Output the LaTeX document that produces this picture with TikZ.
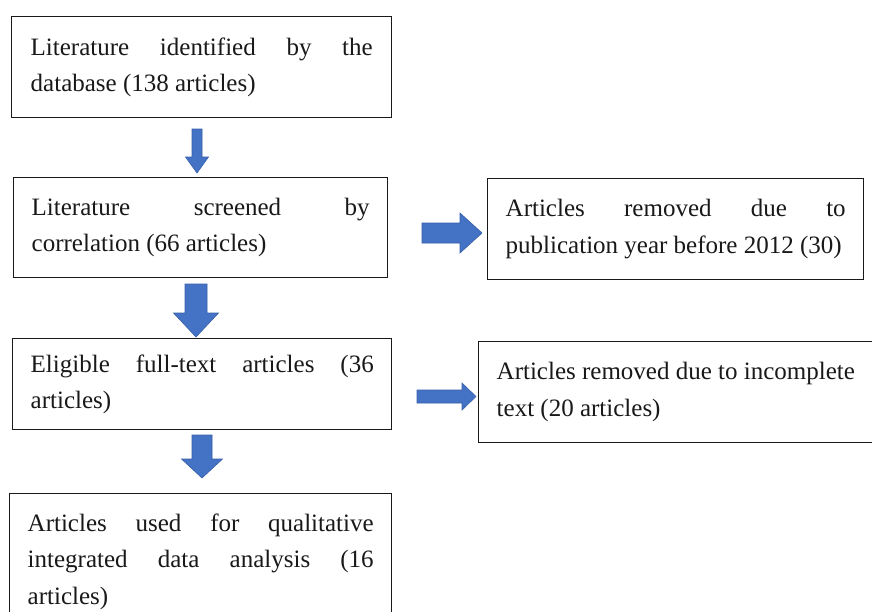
\documentclass[tikz,border=0pt]{standalone}
\usepackage{fontspec}
\setmainfont{Liberation Serif}
\definecolor{arrowblue}{RGB}{68,114,196}
\definecolor{arrowedge}{RGB}{55,95,170}
\definecolor{ink}{RGB}{25,25,25}
\hyphenpenalty=10000
\exhyphenpenalty=10000
\newcommand\myvarrow[6]{%
  \filldraw[barrow] (#1-#5,#2) -- (#1+#5,#2) -- (#1+#5,#3) -- (#1+#6,#3) -- (#1,#4) -- (#1-#6,#3) -- (#1-#5,#3) -- cycle;}
\newcommand\myharrow[6]{%
  \filldraw[barrow] (#2,#1-#5) -- (#3,#1-#5) -- (#3,#1-#6) -- (#4,#1) -- (#3,#1+#6) -- (#3,#1+#5) -- (#2,#1+#5) -- cycle;}
\begin{document}
\begin{tikzpicture}[x=1pt,y=-1pt,
  box/.style={draw=ink, line width=1.4pt, anchor=north west, inner xsep=18pt, inner ysep=0pt,
    align=justify, text=ink, font=\fontsize{25}{36.5}\selectfont},
  barrow/.style={fill=arrowblue, draw=arrowedge, line width=0.6pt, line join=miter}]
\useasboundingbox[fill=white] (0,0) rectangle (872,611);
\node[box, inner xsep=19pt, text width=342pt, minimum height=101pt] (b1) at (11,16)
  {Literature identified by the\linebreak database (138 articles)};
\node[box, text width=338pt, minimum height=100pt] (b2) at (13,177)
  {Literature screened by\linebreak correlation (66 articles)};
\node[box, text width=340pt, minimum height=101pt] (b3) at (487,178)
  {Articles removed due to\linebreak publication year before 2012 (30)};
\node[box, text width=343pt, minimum height=91pt] (b4) at (12,338)
  {Eligible full-text articles (36\linebreak articles)};
\node[box, text width=366pt, minimum height=101pt] (b5) at (478,341)
  {Articles removed due to incomplete\\ text (20 articles)};
\node[box, text width=346pt, minimum height=136pt] (b6) at (9,493)
  {Articles used for qualitative\linebreak integrated data analysis (16\linebreak articles)};
% block arrows
\myvarrow{197}{129}{157}{173}{5}{11.5}
\myvarrow{196}{284}{313}{337}{11}{22.5}
\myvarrow{202}{435}{459}{478}{10}{20.5}
\myharrow{233}{422}{460}{482}{10}{20}
\myharrow{396.5}{417}{462}{476}{6.5}{13.5}
\end{tikzpicture}
\end{document}
